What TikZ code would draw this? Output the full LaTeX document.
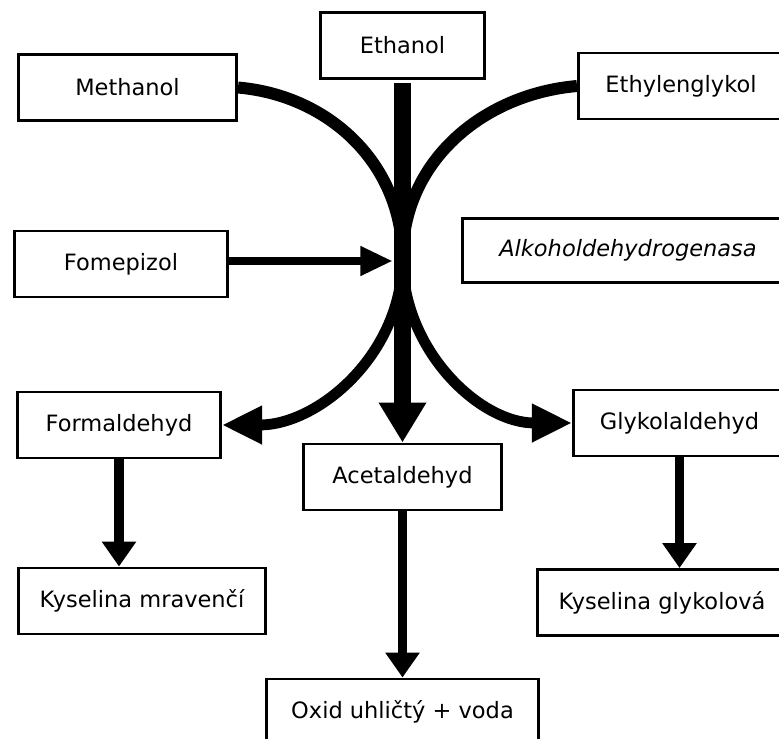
\documentclass[tikz,border=0pt]{standalone}
\usepackage{fontspec}
\setmainfont{DejaVu Sans}
\usetikzlibrary{arrows.meta}

\tikzset{
	stoff/.style={draw, line width=2.1pt, inner sep=0pt, minimum height=1.65cm,
		font=\fontsize{16}{19}\selectfont},
	mainarrow/.style={line width=0.425cm, -{Triangle[width=1.125cm,length=1cm]}},
	sidearrow/.style={line width=0.27cm, -{Triangle[width=0.9cm,length=1cm]}},
	thinarrow/.style={line width=0.23cm, -{Triangle[width=0.825cm,length=0.625cm]}},
}

\begin{document}
\begin{tikzpicture}[x=0.025cm,y=-0.025cm]
		\useasboundingbox (0,0) rectangle (779,739);
		%
		% THE BOXES
		% UPPER ROW
		\node[stoff, minimum width=5.45cm] (meth) at (127.5,87.5) {Methanol};
		\node[stoff, minimum width=4.1cm] (eth) at (402.5,45.5) {Ethanol};
		\node[stoff, minimum width=5.125cm] (glyk) at (681,86) {Ethylenglykol};
		% MIDDLE ROW
		\node[stoff, minimum width=5.325cm] (fome) at (121,264) {Fomepizol};
		\node[stoff, minimum width=8.275cm, minimum height=1.6cm] (adh) at (628,250.5) {\itshape Alkoholdehydrogenasa};
		% ALDEHYDES
		\node[stoff, minimum width=5.075cm] (form) at (119,425) {Formaldehyd};
		\node[stoff, minimum width=4.95cm] (acet) at (402.5,477) {Acetaldehyd};
		\node[stoff, minimum width=5.3cm] (glykal) at (679.5,423) {Glykolaldehyd};
		% PRODUCTS
		\node[stoff, minimum width=6.175cm] (kmrav) at (142,601) {Kyselina mravenčí};
		\node[stoff, minimum width=6.225cm] (kglyk) at (662,602.5) {Kyselina glykolová};
		\node[stoff, minimum width=6.775cm] (oxid) at (402.5,712) {Oxid uhličtý + voda};
		%
		% THE ARROWS
		\coordinate (hub) at (402.5,258);
		% INTO THE ENZYME
		\draw[line width=0.3cm] (meth.east) to[out=-5,in=90] (hub);
		\draw[line width=0.3cm] (glyk.west) to[out=185,in=90] (hub);
		\draw[line width=0.18cm, -{Triangle[width=0.7cm,length=0.8cm]}, shorten >=0.25cm]
		([yshift=0.075cm]fome.east) -- ([yshift=0.075cm]fome.east -| hub);
		% OUT OF THE ENZYME
		\draw[mainarrow, shorten <=0.075cm] (eth.south) -- (acet.north);
		\draw[sidearrow] (hub) to[out=-90,in=0] (form.east);
		\draw[sidearrow] (hub) to[out=-90,in=180] (glykal.west);
		% DOWN TO THE PRODUCTS
		\draw[thinarrow] (form.south) -- (form.south |- kmrav.north);
		\draw[thinarrow] (glykal.south) -- (glykal.south |- kglyk.north);
		\draw[thinarrow] (acet.south) -- (oxid.north);
	\end{tikzpicture}
\end{document}
